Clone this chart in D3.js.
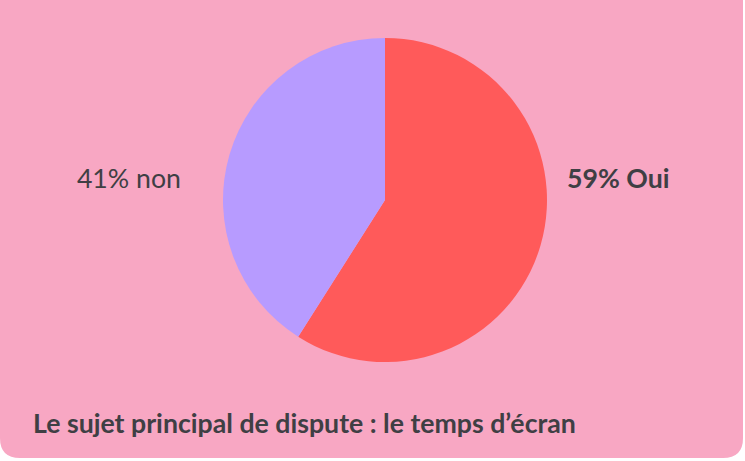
<!DOCTYPE html>
<html lang="fr">
<head>
<meta charset="UTF-8">
<title>temps d'écran</title>
<script src="https://d3js.org/d3.v7.min.js"></script>
<style>
  html, body { margin: 0; padding: 0; background: #ffffff; }
  svg { display: block; font-family: Lato, "Noto Sans", sans-serif; }
</style>
</head>
<body>
<svg id="chart" width="745" height="461"></svg>
<script>
// data
const categories = ["Oui", "non"];
const values = [59, 41];
const colors = ["#FF5A5A", "#B79BFF"];
const title = "Le sujet principal de dispute : le temps d\u2019écran";

const svg = d3.select("#chart");
const width = 745, height = 461;

// card background, rounded bottom corners only
const r = 20, cardW = 743, cardH = 458;
svg.append("path")
    .attr("d", `M0,0 H${cardW} V${cardH - r} Q${cardW},${cardH} ${cardW - r},${cardH} H${r} Q0,${cardH} 0,${cardH - r} Z`)
    .attr("fill", "#F8A7C3");

const cx = 385, cy = 200, radius = 162;

const pie = d3.pie().sort(null).value(d => d);
const arc = d3.arc().innerRadius(0).outerRadius(radius);

const g = svg.append("g").attr("transform", `translate(${cx},${cy})`);
g.selectAll("path")
    .data(pie(values))
    .enter()
    .append("path")
    .attr("d", arc)
    .attr("fill", (d, i) => colors[i]);

// labels
const fs = 26.7;
svg.append("text")
    .attr("x", 567).attr("y", 188)
    .attr("font-size", fs).attr("font-weight", 700)
    .attr("fill", "#3F3F44")
    .text(values[0] + "% " + categories[0]);

svg.append("text")
    .attr("x", 181).attr("y", 188)
    .attr("text-anchor", "end")
    .attr("font-size", fs).attr("font-weight", 400)
    .attr("fill", "#3F3F44")
    .text(values[1] + "% " + categories[1]);

svg.append("text")
    .attr("x", 33).attr("y", 433)
    .attr("font-size", fs).attr("font-weight", 700)
    .attr("fill", "#3F3F44")
    .text(title);
</script>
</body>
</html>
